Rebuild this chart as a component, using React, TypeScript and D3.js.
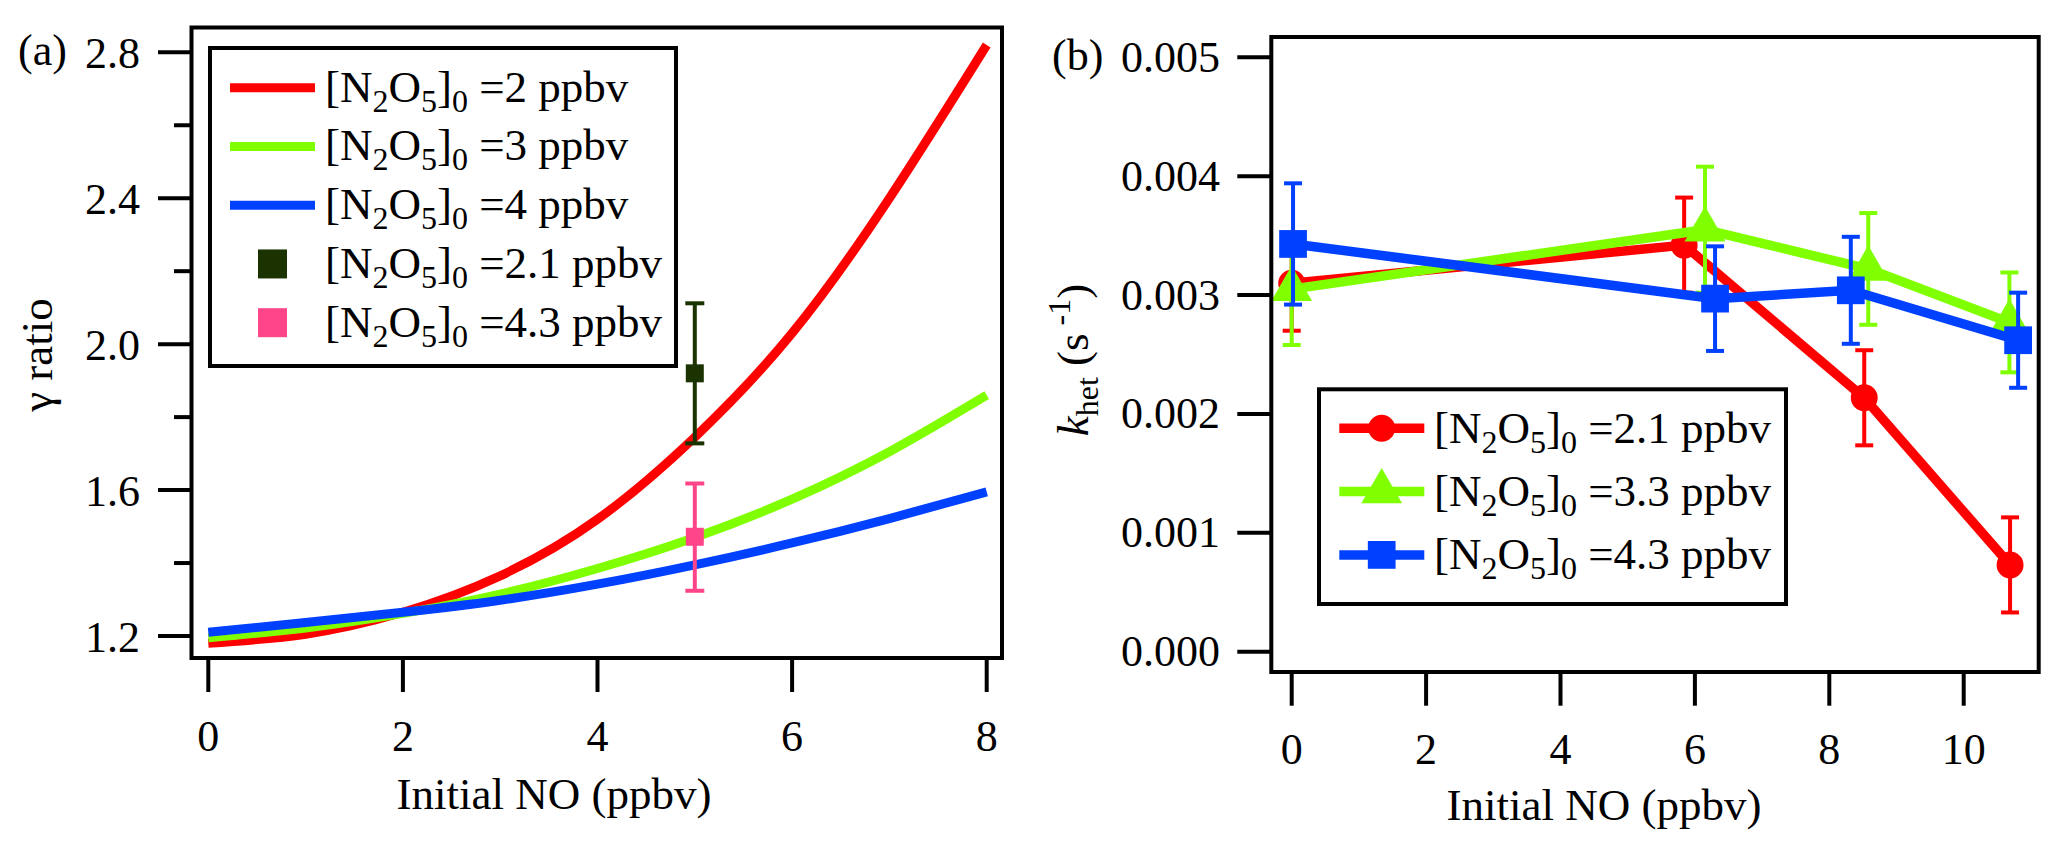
import React from 'react';
import * as d3 from 'd3';

const FONT = '"Liberation Serif", "Times New Roman", serif';

// ---- panel (a): model curves ----
const modelNO = [0, 1, 2, 3, 4, 5, 6, 7, 8];
const ratio2ppb = [1.18, 1.205, 1.265, 1.365, 1.52, 1.745, 2.03, 2.4, 2.82];
const ratio3ppb = [1.195, 1.222, 1.262, 1.315, 1.385, 1.47, 1.575, 1.705, 1.86];
const ratio4ppb = [1.21, 1.237, 1.265, 1.298, 1.342, 1.395, 1.455, 1.522, 1.595];

// ---- panel (a): measured points ----
const measNO = [5, 5];
const measRatio = [1.92, 1.472];
const measLow = [1.728, 1.324];
const measHigh = [2.112, 1.618];
const measColors = ['#1b3300', '#ff4589'];
const measLabels = ['2.1', '4.3'];

const curveLabels = ['2', '3', '4'];
const curveColors = ['#ff0000', '#80ff00', '#0040ff'];

const aXTicks = [0, 2, 4, 6, 8];
const aYTicks = [1.2, 1.6, 2.0, 2.4, 2.8];
const aYMinor = [1.4, 1.8, 2.2, 2.6];

// ---- panel (b): k_het ----
const kRedNO = [0, 5.84, 8.52, 10.69];
const kRed = [0.0031, 0.00342, 0.002136, 0.00073];
const kRedErr = [0.0004, 0.0004, 0.0004, 0.0004];
const kGreenNO = [0, 6.15, 8.58, 10.68];
const kGreen = [0.00305, 0.00355, 0.00322, 0.00277];
const kGreenErr = [0.00047, 0.00053, 0.00047, 0.00042];
const kBlueNO = [0.02, 6.3, 8.32, 10.81];
const kBlue = [0.00343, 0.00297, 0.00304, 0.00262];
const kBlueErr = [0.00051, 0.00044, 0.00045, 0.0004];
const kLabels = ['2.1', '3.3', '4.3'];

const bXTicks = [0, 2, 4, 6, 8, 10];
const bYTicks = [0, 0.001, 0.002, 0.003, 0.004, 0.005];

// scales (panel frames are layout, the data go through these)
const xa = d3.scaleLinear().domain([0, 8]).range([208.3, 986.7]);
const ya = d3.scaleLinear().domain([1.2, 2.8]).range([636, 52.3]);
const frameA = { x0: 191.5, x1: 1002, y0: 27.5, y1: 658 };

const xb = d3.scaleLinear().domain([0, 10]).range([1291.7, 1963.7]);
const yb = d3.scaleLinear().domain([0, 0.005]).range([651.7, 57.3]);
const frameB = { x0: 1271.3, x1: 2038.7, y0: 37, y1: 672 };

const N2O5Label: React.FC<{ x: number; y: number; value: string }> = ({ x, y, value }) => (
  <text x={x} y={y} fontSize={45} fontFamily={FONT} fill="#000">
    [N<tspan dy={10} fontSize={32}>2</tspan>
    <tspan dy={-10}>O</tspan>
    <tspan dy={10} fontSize={32}>5</tspan>
    <tspan dy={-10}>]</tspan>
    <tspan dy={10} fontSize={32}>0</tspan>
    <tspan dy={-10}>{` =${value} ppbv`}</tspan>
  </text>
);

const ErrorBar: React.FC<{ x: number; lo: number; hi: number; color: string; cap: number }> = ({ x, lo, hi, color, cap }) => (
  <g stroke={color} strokeWidth={4}>
    <line x1={x} x2={x} y1={lo} y2={hi} />
    <line x1={x - cap / 2} x2={x + cap / 2} y1={lo} y2={lo} />
    <line x1={x - cap / 2} x2={x + cap / 2} y1={hi} y2={hi} />
  </g>
);

const markerPath = (shape: string) => {
  if (shape === 'circle') return d3.symbol(d3.symbolCircle, 570)()!;
  if (shape === 'triangle') return d3.symbol(d3.symbolTriangle, 720)()!;
  return d3.symbol(d3.symbolSquare, 770)()!;
};

export default function App() {
  const curveLine = d3
    .line<number>()
    .x((_, i) => xa(modelNO[i]))
    .y((d) => ya(d))
    .curve(d3.curveNatural);

  const series = [
    { xs: kRedNO, ys: kRed, errs: kRedErr, color: curveColors[0], shape: 'circle', label: kLabels[0] },
    { xs: kGreenNO, ys: kGreen, errs: kGreenErr, color: curveColors[1], shape: 'triangle', label: kLabels[1] },
    { xs: kBlueNO, ys: kBlue, errs: kBlueErr, color: curveColors[2], shape: 'square', label: kLabels[2] },
  ];

  const kLine = (xs: number[]) =>
    d3
      .line<number>()
      .x((_, i) => xb(xs[i]))
      .y((d) => yb(d));

  return (
    <svg
      width={2067}
      height={852}
      style={{ position: 'absolute', left: 0, top: 0, background: '#fff' }}
      fontFamily={FONT}
    >
      {/* ================= panel (a) ================= */}
      <text x={18} y={65} fontSize={44}>(a)</text>

      {/* curves */}
      {[ratio2ppb, ratio3ppb, ratio4ppb].map((vals, i) => (
        <path key={i} d={curveLine(vals)!} fill="none" stroke={curveColors[i]} strokeWidth={9} />
      ))}

      {/* measured points */}
      {measNO.map((n, i) => (
        <g key={i}>
          <ErrorBar x={xa(n)} lo={ya(measLow[i])} hi={ya(measHigh[i])} color={measColors[i]} cap={19} />
          <rect x={xa(n) - 9} y={ya(measRatio[i]) - 9} width={18} height={18} fill={measColors[i]} />
        </g>
      ))}

      {/* frame */}
      <rect
        x={frameA.x0}
        y={frameA.y0}
        width={frameA.x1 - frameA.x0}
        height={frameA.y1 - frameA.y0}
        fill="none"
        stroke="#000"
        strokeWidth={4}
      />

      {/* y ticks */}
      {aYTicks.map((t) => (
        <g key={t}>
          <line x1={158} x2={frameA.x0} y1={ya(t)} y2={ya(t)} stroke="#000" strokeWidth={4} />
          <text x={140} y={ya(t) + 16} fontSize={44} textAnchor="end">
            {t.toFixed(1)}
          </text>
        </g>
      ))}
      {aYMinor.map((t) => (
        <line key={t} x1={174} x2={frameA.x0} y1={ya(t)} y2={ya(t)} stroke="#000" strokeWidth={4} />
      ))}

      {/* x ticks */}
      {aXTicks.map((t) => (
        <g key={t}>
          <line x1={xa(t)} x2={xa(t)} y1={frameA.y1} y2={692} stroke="#000" strokeWidth={4} />
          <text x={xa(t)} y={751} fontSize={44} textAnchor="middle">
            {t}
          </text>
        </g>
      ))}

      <text x={554} y={809} fontSize={45} textAnchor="middle">
        Initial NO (ppbv)
      </text>
      <text transform="translate(52, 355) rotate(-90)" fontSize={45} textAnchor="middle">
        γ ratio
      </text>

      {/* legend (a) */}
      <rect x={210} y={48} width={466} height={318} fill="#fff" stroke="#000" strokeWidth={4} />
      {curveLabels.map((lab, i) => {
        const ry = 87.7 + i * 58.75;
        return (
          <g key={lab}>
            <line x1={230} x2={315} y1={ry} y2={ry} stroke={curveColors[i]} strokeWidth={9} />
            <N2O5Label x={325} y={ry + 14} value={lab} />
          </g>
        );
      })}
      {measLabels.map((lab, i) => {
        const ry = 87.7 + (i + 3) * 58.75;
        return (
          <g key={lab}>
            <rect x={258} y={ry - 14.5} width={29} height={29} fill={measColors[i]} />
            <N2O5Label x={325} y={ry + 14} value={lab} />
          </g>
        );
      })}

      {/* ================= panel (b) ================= */}
      <text x={1052} y={70} fontSize={44}>(b)</text>

      {series.map((s, si) => (
        <g key={si}>
          <path d={kLine(s.xs)(s.ys)!} fill="none" stroke={s.color} strokeWidth={9.5} />
          {s.xs.map((n, i) => (
            <g key={i}>
              <ErrorBar
                x={xb(n)}
                lo={yb(s.ys[i] - s.errs[i])}
                hi={yb(s.ys[i] + s.errs[i])}
                color={s.color}
                cap={18}
              />
              <path d={markerPath(s.shape)} transform={`translate(${xb(n)},${yb(s.ys[i])})`} fill={s.color} />
            </g>
          ))}
        </g>
      ))}

      <rect
        x={frameB.x0}
        y={frameB.y0}
        width={frameB.x1 - frameB.x0}
        height={frameB.y1 - frameB.y0}
        fill="none"
        stroke="#000"
        strokeWidth={4}
      />

      {bYTicks.map((t) => (
        <g key={t}>
          <line x1={1237.3} x2={frameB.x0} y1={yb(t)} y2={yb(t)} stroke="#000" strokeWidth={4} />
          <text x={1220} y={yb(t) + 14.5} fontSize={44} textAnchor="end">
            {t.toFixed(3)}
          </text>
        </g>
      ))}
      {bXTicks.map((t) => (
        <g key={t}>
          <line x1={xb(t)} x2={xb(t)} y1={frameB.y1} y2={705.7} stroke="#000" strokeWidth={4} />
          <text x={xb(t)} y={764} fontSize={44} textAnchor="middle">
            {t}
          </text>
        </g>
      ))}

      <text x={1604} y={820} fontSize={45} textAnchor="middle">
        Initial NO (ppbv)
      </text>
      <text transform="translate(1088, 360) rotate(-90)" fontSize={45} textAnchor="middle">
        <tspan fontStyle="italic">k</tspan>
        <tspan dy={10} fontSize={32}>het</tspan>
        <tspan dy={-10}> (s</tspan>
        <tspan dy={-18} fontSize={32}> -1</tspan>
        <tspan dy={18}>)</tspan>
      </text>

      {/* legend (b) */}
      <rect x={1319} y={389.3} width={467} height={214.7} fill="#fff" stroke="#000" strokeWidth={4} />
      {series.map((s, i) => {
        const ry = 428.3 + i * 63.3;
        return (
          <g key={i}>
            <line x1={1339.3} x2={1424.3} y1={ry} y2={ry} stroke={s.color} strokeWidth={9.5} />
            <path d={markerPath(s.shape)} transform={`translate(1381.7,${ry})`} fill={s.color} />
            <N2O5Label x={1434} y={ry + 14.4} value={s.label} />
          </g>
        );
      })}
    </svg>
  );
}
